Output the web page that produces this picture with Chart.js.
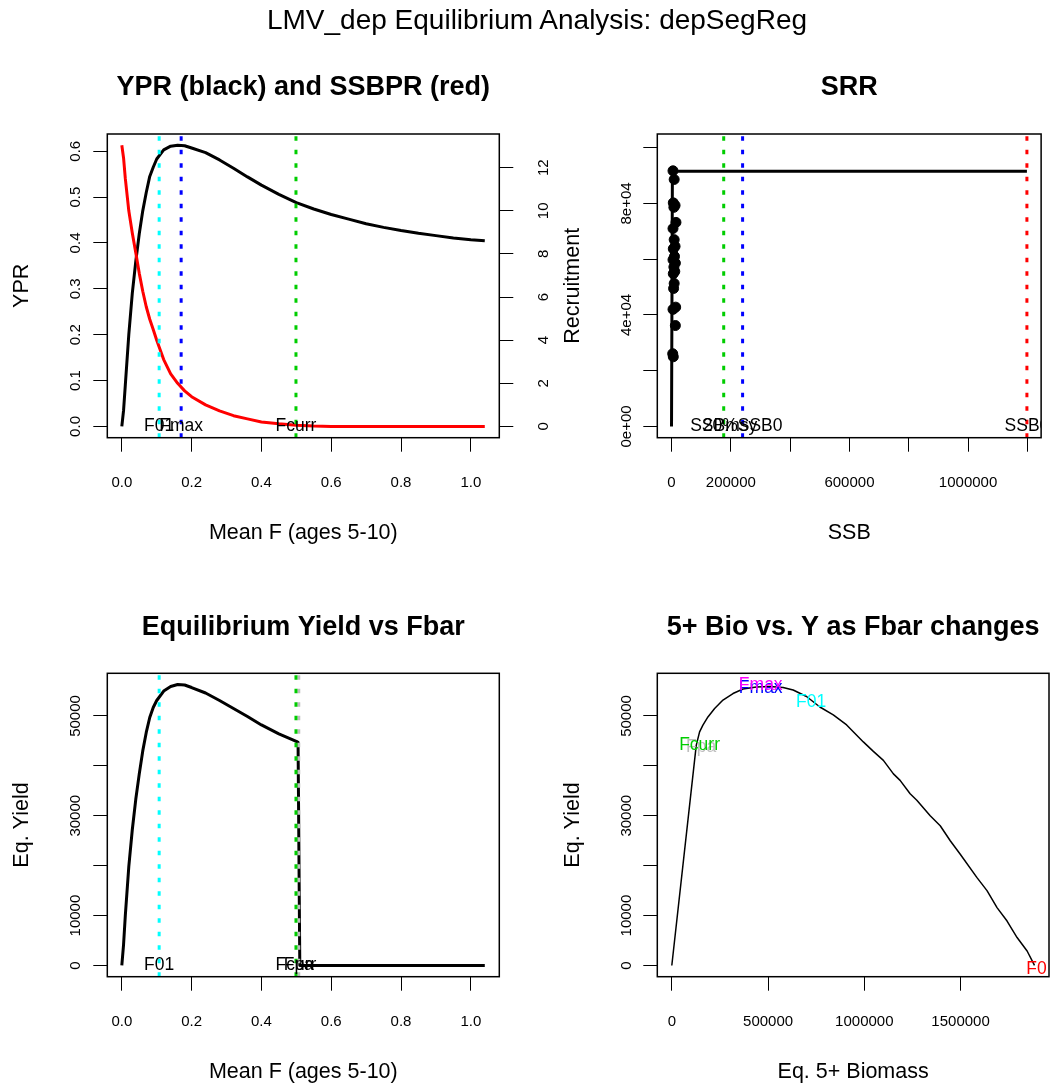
<!DOCTYPE html>
<html>
<head>
<meta charset="utf-8">
<title>LMV_dep Equilibrium Analysis: depSegReg</title>
<script src="https://cdn.jsdelivr.net/npm/chart.js@4.4.1/dist/chart.umd.min.js"></script>
<style>
  html, body { margin: 0; padding: 0; background: #fff; overflow: hidden; }
  #page { position: relative; width: 1050px; height: 1086px; overflow: hidden; }
  #page canvas { position: absolute; }
  #main { position: absolute; left: 0; top: 0; width: 1074px; text-align: center;
          font: 28px 'Liberation Sans', Arial, sans-serif; line-height: 40px; color: #000; }
</style>
</head>
<body>
<div id="page">
  <canvas id="ypr" width="600" height="560" style="left:0;top:0"></canvas>
  <canvas id="srr" width="493" height="560" style="left:557px;top:0"></canvas>
  <canvas id="yield" width="600" height="546" style="left:0;top:540px"></canvas>
  <canvas id="bio" width="493" height="546" style="left:557px;top:540px"></canvas>
  <div id="main">LMV_dep Equilibrium Analysis: depSegReg</div>
</div>
<script>
const FONT = "'Liberation Sans', Arial, Helvetica, sans-serif";
Chart.defaults.font.family = FONT;
Chart.defaults.color = '#000';

// per-recruit curves (top left)
const fbarGrid = [0, 0.005, 0.01, 0.02, 0.03, 0.04, 0.05, 0.06, 0.07, 0.08, 0.09, 0.10, 0.12, 0.14, 0.16, 0.18, 0.20,
  0.24, 0.28, 0.32, 0.36, 0.40, 0.45, 0.50, 0.55, 0.60, 0.65, 0.70, 0.75, 0.80, 0.85, 0.90, 0.95, 1.00, 1.04];
const yprValues = [0, 0.035, 0.09, 0.20, 0.29, 0.36, 0.42, 0.47, 0.51, 0.545, 0.565, 0.583, 0.603, 0.611, 0.613, 0.612, 0.607,
  0.597, 0.581, 0.563, 0.544, 0.526, 0.506, 0.488, 0.474, 0.462, 0.452, 0.442, 0.434, 0.427, 0.421, 0.416, 0.411, 0.407, 0.405];
const ssbprValues = [13.04, 12.45, 11.5, 10.0, 8.97, 8.05, 7.1, 6.27, 5.55, 4.97, 4.5, 4.0, 3.1, 2.44, 2.0, 1.65, 1.38,
  1.0, 0.72, 0.5, 0.35, 0.21, 0.12, 0.06, 0.02, 0, 0, 0, 0, 0, 0, 0, 0, 0, 0];
const yprRefNames = ['F01', 'Fmax', 'Fcurr'];
const yprRefF = [0.107, 0.17, 0.499];
const fTicks = [0, 0.2, 0.4, 0.6, 0.8, 1.0];
const fTickLabels = ['0.0', '0.2', '0.4', '0.6', '0.8', '1.0'];
const yprTicks = [0, 0.1, 0.2, 0.3, 0.4, 0.5, 0.6];
const yprTickLabels = ['0.0', '0.1', '0.2', '0.3', '0.4', '0.5', '0.6'];
const recTicks = [0, 2, 4, 6, 8, 10, 12];
const recTickLabels = ['0', '2', '4', '6', '8', '10', '12'];

// stock-recruit (top right)
const ssbObs = [5000, 9000, 6000, 12000, 8000, 15000, 5000, 9000, 12000, 6000, 10000, 5000,
  13000, 8000, 11000, 6000, 9000, 7000, 14000, 5000, 13000, 4000, 6000];
const recObs = [91700, 88600, 80200, 79300, 78600, 73200, 71000, 67000, 64600, 63700, 61000, 59800,
  58600, 57200, 55600, 54800, 51300, 49500, 42800, 42000, 36200, 26100, 25000];
const srFitSsb = [0, 3000, 1198400];
const srFitRec = [0, 91500, 91500];
const ssbRefNames = ['SSBmsy', '20%SSB0', 'SSB0'];
const ssbRefValues = [176000, 239700, 1198400];
const ssbTicks = [0, 200000, 400000, 600000, 800000, 1000000, 1200000];
const ssbTickLabels = ['0', '200000', '', '600000', '', '1000000', ''];
const srrRecTicks = [0, 20000, 40000, 60000, 80000, 100000];
const srrRecTickLabels = ['0e+00', '', '4e+04', '', '8e+04', ''];

// equilibrium yield vs Fbar (bottom left)
const eqFbar = [0, 0.005, 0.01, 0.02, 0.03, 0.04, 0.05, 0.06, 0.07, 0.08, 0.09, 0.10, 0.12, 0.14, 0.16, 0.18, 0.20,
  0.24, 0.28, 0.32, 0.36, 0.40, 0.45, 0.50, 0.505, 0.51, 1.04];
const eqYield = [0, 4200, 10000, 19800, 27200, 33300, 38400, 43000, 46700, 49700, 51700, 53100, 55000, 55900, 56300, 56200, 55700,
  54600, 53100, 51500, 49900, 48200, 46400, 44900, 44700, 0, 0];
const eqRefNames = ['F01', 'Fcurr', 'Fpa'];
const eqRefF = [0.107, 0.499, 0.507];
const yieldTicks = [0, 10000, 20000, 30000, 40000, 50000];
const yieldTickLabels = ['0', '10000', '', '30000', '', '50000'];

// 5+ biomass vs yield (bottom right)
const eqBiomass = [0, 126900, 144300, 161600, 187700, 222400, 265800, 317900, 370000, 439400, 508900, 578300,
  630400, 699800, 769300, 838700, 908200, 994900, 1047000, 1099100, 1151200, 1185900, 1238000, 1272700,
  1342200, 1394300, 1446400, 1498400, 1585300, 1637300, 1689400, 1741500, 1793600, 1845700, 1884000];
const eqYieldByBio = [0, 44100, 46800, 48150, 49800, 51500, 53200, 54500, 55400, 55800, 55900, 55700,
  55200, 53900, 51800, 50200, 48200, 44800, 42900, 41100, 38400, 37100, 34400, 33100,
  30000, 28000, 25000, 22300, 17600, 15000, 11600, 8900, 5600, 2900, 0];
const bioRefNames = ['Fpa', 'Fcurr', 'Fmax', 'Fmax', 'F01', 'F0'];
const bioRefX = [152000, 144300, 462000, 462000, 724000, 1894000];
const bioRefY = [43800, 44100, 55500, 56200, 52800, -700];
const bioTicks = [0, 500000, 1000000, 1500000];
const bioTickLabels = ['0', '500000', '1000000', '1500000'];

// colours
const GREEN = '#00CD00', CYAN = '#00FFFF', BLUE = '#0000FF', RED = '#FF0000', MAGENTA = '#FF00FF', GREY = '#BEBEBE';

const rRange = (lo, hi) => [lo - (hi - lo) * 0.04, hi + (hi - lo) * 0.04];

// box round the plot region, text labels inside it, and an optional right-side title
const rFrame = {
  id: 'rFrame',
  afterDatasetsDraw(chart, args, opts) {
    const { ctx, chartArea: a, scales } = chart;
    ctx.save();
    ctx.strokeStyle = '#000';
    ctx.lineWidth = 1.5;
    ctx.strokeRect(a.left, a.top, a.right - a.left, a.bottom - a.top);
    if (opts.side) {
      ctx.save();
      ctx.translate(a.right + opts.side.offset, (a.top + a.bottom) / 2);
      ctx.rotate(-Math.PI / 2);
      ctx.font = '21.5px ' + FONT;
      ctx.fillStyle = '#000';
      ctx.textAlign = 'center';
      ctx.textBaseline = 'middle';
      ctx.fillText(opts.side.text, 0, 0);
      ctx.restore();
    }
    ctx.beginPath();
    ctx.rect(a.left, a.top, a.right - a.left, a.bottom - a.top);
    ctx.clip();
    ctx.font = '17.5px ' + FONT;
    ctx.textAlign = 'center';
    ctx.textBaseline = 'middle';
    (opts.notes || []).forEach(n => {
      ctx.fillStyle = n.color;
      ctx.fillText(n.text, scales.x.getPixelForValue(n.x), scales[n.axis || 'y'].getPixelForValue(n.y));
    });
    ctx.restore();
  }
};

function tickGrid() {
  return { drawOnChartArea: false, drawTicks: true, tickLength: 14, color: '#000', lineWidth: 1 };
}

function xAxis(lim, ticks, labels, title, height, titlePad) {
  return {
    type: 'linear', position: 'bottom', min: lim[0], max: lim[1], bounds: 'data',
    afterBuildTicks: s => { s.ticks = ticks.map(v => ({ value: v })); },
    afterFit: s => { s.height = height; },
    grid: tickGrid(),
    border: { display: false },
    ticks: { autoSkip: false, maxRotation: 0, padding: 22.3, font: { size: 15 }, callback: (v, i) => labels[i] },
    title: { display: true, text: title, font: { size: 21.5 }, padding: { top: 0, bottom: titlePad } }
  };
}

function yAxis(pos, lim, ticks, labels, title, width, pad, titlePad) {
  return {
    type: 'linear', position: pos, min: lim[0], max: lim[1], bounds: 'data',
    afterBuildTicks: s => { s.ticks = ticks.map(v => ({ value: v })); },
    afterFit: s => { s.width = width; },
    grid: tickGrid(),
    border: { display: false },
    ticks: { autoSkip: false, minRotation: 90, maxRotation: 90, crossAlign: 'center', padding: pad,
             font: { size: 15 }, callback: (v, i) => labels[i] },
    title: { display: !!title, text: title || '', font: { size: 21.5 }, padding: { top: titlePad || 0, bottom: 0 } }
  };
}

function curve(xs, ys, color, width, axis) {
  return {
    data: xs.map((x, i) => ({ x: x, y: ys[i] })), yAxisID: axis || 'y',
    showLine: true, borderColor: color, borderWidth: width, pointRadius: 0, tension: 0, borderJoinStyle: 'round'
  };
}

function vline(x, lim, color) {
  return {
    data: [{ x: x, y: lim[0] }, { x: x, y: lim[1] }],
    showLine: true, borderColor: color, borderWidth: 3, borderDash: [4.5, 9], pointRadius: 0
  };
}

function options(title, titlePad, padRight, scales, frame) {
  return {
    responsive: false, animation: false, events: [],
    layout: { padding: { left: 0, top: 0, bottom: 0, right: padRight }, autoPadding: false },
    plugins: {
      legend: { display: false }, tooltip: { enabled: false },
      title: { display: true, text: title, fullSize: false, font: { size: 27, weight: 'bold' },
               padding: { top: 71.8, bottom: titlePad } },
      rFrame: frame
    },
    scales: scales
  };
}

// ---- YPR and SSBPR ----
const fLim = rRange(0, fbarGrid[fbarGrid.length - 1]);
const yprLim = rRange(0, Math.max(...yprValues));
const ssbprLim = rRange(0, Math.max(...ssbprValues));
new Chart(document.getElementById('ypr'), {
  type: 'scatter',
  data: { datasets: [
    vline(yprRefF[0], yprLim, CYAN),
    vline(yprRefF[1], yprLim, BLUE),
    vline(yprRefF[2], yprLim, GREEN),
    curve(fbarGrid, ssbprValues, RED, 3, 'y2'),
    curve(fbarGrid, yprValues, '#000', 3)
  ] },
  options: options('YPR (black) and SSBPR (red)', 29.8, 0, {
    x: xAxis(fLim, fTicks, fTickLabels, 'Mean F (ages 5-10)', 122.3, 14.1),
    y: yAxis('left', yprLim, yprTicks, yprTickLabels, 'YPR', 107.3, 6.9, 9.1),
    y2: yAxis('right', ssbprLim, recTicks, recTickLabels, null, 100.7, 22.7)
  }, {
    notes: yprRefNames.map((t, i) => ({ text: t, x: yprRefF[i], y: 0, color: '#000' })),
    side: { text: 'Recruitment', offset: 74 }
  }),
  plugins: [rFrame]
});

// ---- SRR ----
const ssbLim = rRange(0, ssbRefValues[2]);
const recLim = rRange(0, Math.max(...recObs) * 1.1);
new Chart(document.getElementById('srr'), {
  type: 'scatter',
  data: { datasets: [
    vline(ssbRefValues[0], recLim, GREEN),
    vline(ssbRefValues[1], recLim, BLUE),
    vline(ssbRefValues[2], recLim, RED),
    { data: ssbObs.map((s, i) => ({ x: s, y: recObs[i] })), pointRadius: 5, pointBackgroundColor: '#000',
      pointBorderColor: '#000', pointBorderWidth: 1, showLine: false },
    curve(srFitSsb, srFitRec, '#000', 3)
  ] },
  options: options('SRR', 29.8, 1, {
    x: xAxis(ssbLim, ssbTicks, ssbTickLabels, 'SSB', 122.3, 14.1),
    y: yAxis('left', recLim, srrRecTicks, srrRecTickLabels, null, 100.3, -4.46)
  }, {
    notes: ssbRefNames.map((t, i) => ({ text: t, x: ssbRefValues[i], y: 0, color: '#000' }))
  }),
  plugins: [rFrame]
});

// ---- Equilibrium yield vs Fbar ----
const yieldLim = rRange(0, Math.max(...eqYield));
new Chart(document.getElementById('yield'), {
  type: 'scatter',
  data: { datasets: [
    vline(eqRefF[0], yieldLim, CYAN),
    vline(eqRefF[1], yieldLim, GREEN),
    vline(eqRefF[2], yieldLim, GREY),
    curve(eqFbar, eqYield, '#000', 3)
  ] },
  options: options('Equilibrium Yield vs Fbar', 29.1, 100.7, {
    x: xAxis(fLim, fTicks, fTickLabels, 'Mean F (ages 5-10)', 109.3, 1.1),
    y: yAxis('left', yieldLim, yieldTicks, yieldTickLabels, 'Eq. Yield', 107.3, -3.55, 9.1)
  }, {
    notes: eqRefNames.map((t, i) => ({ text: t, x: eqRefF[i], y: 0, color: '#000' }))
  }),
  plugins: [rFrame]
});

// ---- 5+ biomass vs yield ----
const bioLim = rRange(0, eqBiomass[eqBiomass.length - 1]);
const bioColors = [GREY, GREEN, BLUE, MAGENTA, CYAN, RED];
new Chart(document.getElementById('bio'), {
  type: 'scatter',
  data: { datasets: [
    curve(eqBiomass, eqYieldByBio, '#000', 1.5)
  ] },
  options: options('5+ Bio vs. Y as Fbar changes', 29.1, 1, {
    x: xAxis(bioLim, bioTicks, bioTickLabels, 'Eq. 5+ Biomass', 109.3, 1.1),
    y: yAxis('left', yieldLim, yieldTicks, yieldTickLabels, 'Eq. Yield', 100.3, -4.25, 3.4)
  }, {
    notes: bioRefNames.map((t, i) => ({ text: t, x: bioRefX[i], y: bioRefY[i], color: bioColors[i] }))
  }),
  plugins: [rFrame]
});
</script>
</body>
</html>
